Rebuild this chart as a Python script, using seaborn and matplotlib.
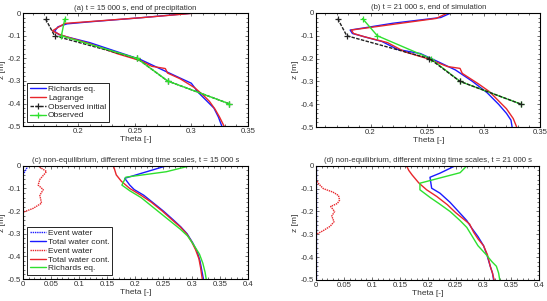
import matplotlib
matplotlib.use('Agg')
import matplotlib.pyplot as plt
import seaborn as sns
from matplotlib.ticker import AutoMinorLocator

sns.set_style('ticks')
plt.rcParams['font.family'] = ['Liberation Sans', 'DejaVu Sans']

BLUE = '#1a1aff'
RED = '#e8262b'
GREEN = '#2ee02e'

# ---- panel (a): t = 15 000 s
a_rich_theta = [0.300, 0.255, 0.210, 0.190, 0.182, 0.179, 0.183, 0.190, 0.210, 0.237, 0.255,
                0.272, 0.287, 0.300, 0.306, 0.314, 0.320, 0.324, 0.327]
a_rich_z = [0.0, -0.02, -0.038, -0.047, -0.06, -0.08, -0.095, -0.105, -0.13, -0.175, -0.205,
            -0.245, -0.28, -0.31, -0.35, -0.39, -0.42, -0.46, -0.5]
a_lag_theta = [0.302, 0.255, 0.210, 0.188, 0.183, 0.177, 0.183, 0.190, 0.210, 0.235, 0.255,
               0.265, 0.277, 0.279, 0.290, 0.303, 0.311, 0.316, 0.321, 0.325, 0.329]
a_lag_z = [0.0, -0.02, -0.037, -0.045, -0.06, -0.078, -0.093, -0.105, -0.135, -0.18, -0.21,
           -0.235, -0.245, -0.265, -0.29, -0.33, -0.365, -0.39, -0.425, -0.46, -0.5]

obs_z = [-0.025, -0.1, -0.2, -0.3, -0.4]
obs_init_theta = [0.171, 0.179, 0.252, 0.279, 0.333]
a_obs_theta = [0.188, 0.185, 0.252, 0.279, 0.333]

# ---- panel (b): t = 21 000 s
b_rich_theta = [0.271, 0.262, 0.220, 0.195, 0.182, 0.184, 0.195, 0.210, 0.224, 0.244, 0.258,
                0.275, 0.290, 0.303, 0.313, 0.320, 0.324, 0.325]
b_rich_z = [0.0, -0.02, -0.045, -0.065, -0.075, -0.09, -0.105, -0.125, -0.16, -0.178, -0.21,
            -0.25, -0.3, -0.35, -0.4, -0.44, -0.47, -0.5]
b_lag_theta = [0.268, 0.258, 0.183, 0.185, 0.195, 0.215, 0.230, 0.250, 0.268, 0.279, 0.281,
               0.295, 0.305, 0.312, 0.320, 0.326, 0.329]
b_lag_z = [0.0, -0.024, -0.075, -0.09, -0.105, -0.13, -0.17, -0.2, -0.235, -0.243, -0.265,
           -0.31, -0.345, -0.38, -0.42, -0.463, -0.5]
b_obs_theta = [0.193, 0.206, 0.253, 0.279, 0.333]

# ---- panel (c): non-equilibrium, t = 15 000 s
c_ev1_theta = [0.009, 0.0, 0.0]
c_ev1_z = [0.0, -0.04, -0.5]
c_tot1_theta = [0.255, 0.181, 0.190, 0.198, 0.215, 0.230, 0.250, 0.268, 0.281, 0.292, 0.302,
                0.310, 0.315, 0.318, 0.321]
c_tot1_z = [0.0, -0.055, -0.085, -0.105, -0.13, -0.16, -0.2, -0.24, -0.27, -0.3, -0.34,
            -0.38, -0.42, -0.46, -0.5]
c_ev2_theta = [0.026, 0.042, 0.030, 0.027, 0.036, 0.030, 0.033, 0.018, 0.0, 0.0]
c_ev2_z = [0.0, -0.025, -0.06, -0.085, -0.105, -0.13, -0.165, -0.188, -0.205, -0.5]
c_tot2_theta = [0.161, 0.166, 0.175, 0.190, 0.210, 0.228, 0.248, 0.266, 0.280, 0.291, 0.300,
                0.307, 0.313, 0.316, 0.319]
c_tot2_z = [0.0, -0.04, -0.068, -0.1, -0.13, -0.16, -0.2, -0.24, -0.27, -0.3, -0.335,
            -0.37, -0.41, -0.45, -0.5]
c_rich_theta = [0.297, 0.255, 0.183, 0.176, 0.190, 0.210, 0.225, 0.245, 0.265, 0.280, 0.293,
                0.304, 0.314, 0.320, 0.324, 0.326]
c_rich_z = [0.0, -0.026, -0.05, -0.085, -0.11, -0.14, -0.17, -0.21, -0.25, -0.28, -0.31,
            -0.35, -0.39, -0.43, -0.47, -0.5]

# ---- panel (d): non-equilibrium, t = 21 000 s
d_ev1_theta = [0.0, 0.0]
d_ev1_z = [0.0, -0.5]
d_tot1_theta = [0.249, 0.222, 0.204, 0.207, 0.222, 0.240, 0.255, 0.270, 0.278, 0.290, 0.300,
                0.306, 0.312, 0.316, 0.318]
d_tot1_z = [0.0, -0.032, -0.05, -0.098, -0.12, -0.16, -0.2, -0.24, -0.27, -0.31, -0.35,
            -0.39, -0.44, -0.47, -0.5]
d_ev2_theta = [0.0, 0.0, 0.005, 0.013, 0.030, 0.040, 0.042, 0.038, 0.026, 0.033, 0.028,
               0.032, 0.025, 0.012, 0.0, 0.0]
d_ev2_z = [0.0, -0.06, -0.08, -0.1, -0.115, -0.13, -0.15, -0.165, -0.178, -0.2, -0.22,
           -0.245, -0.265, -0.285, -0.3, -0.5]
d_tot2_theta = [0.162, 0.166, 0.172, 0.184, 0.198, 0.216, 0.235, 0.250, 0.265, 0.275, 0.282,
                0.290, 0.300, 0.307, 0.312, 0.316, 0.319]
d_tot2_z = [0.0, -0.02, -0.04, -0.075, -0.105, -0.134, -0.17, -0.205, -0.235, -0.255, -0.29,
            -0.32, -0.35, -0.39, -0.44, -0.47, -0.5]
d_rich_theta = [0.270, 0.258, 0.186, 0.186, 0.205, 0.220, 0.240, 0.258, 0.270, 0.280, 0.290,
                0.305, 0.315, 0.323, 0.327, 0.329]
d_rich_z = [0.0, -0.03, -0.076, -0.105, -0.14, -0.165, -0.2, -0.24, -0.27, -0.31, -0.35,
            -0.39, -0.42, -0.44, -0.47, -0.5]

FS = 5.6
LEG_FS = 6.0
LW = 1.0
DOTS = (0, (1, 0.6))


def draw(ax, theta, z, color, ls='-', marker=None, ms=4, label=None):
    n = len(ax.lines)
    sns.lineplot(x=theta, y=z, sort=False, estimator=None, ax=ax, color=color,
                 linewidth=LW, label=label)
    line = ax.lines[n]
    line.set_linestyle(ls)
    if marker:
        line.set_marker(marker)
        line.set_markersize(ms)
        line.set_markeredgewidth(0.9)
        line.set_markeredgecolor(color)
    return line


def style_axes(ax, xlim, xticks, title):
    ax.set_xlim(*xlim)
    ax.set_ylim(-0.5, 0)
    ax.set_xticks(xticks)
    ax.set_xticklabels(['%g' % t for t in xticks])
    ax.set_yticks([0, -0.1, -0.2, -0.3, -0.4, -0.5])
    ax.set_yticklabels(['0', '-0.1', '-0.2', '-0.3', '-0.4', '-0.5'])
    ax.xaxis.set_minor_locator(AutoMinorLocator(5))
    ax.yaxis.set_minor_locator(AutoMinorLocator(5))
    ax.tick_params(which='both', direction='in', top=True, right=True,
                   labelsize=FS, pad=1.5, width=0.5, colors='#333333')
    ax.tick_params(which='major', length=2.5)
    ax.tick_params(which='minor', length=1.2)
    for s in ax.spines.values():
        s.set_visible(True)
        s.set_linewidth(0.8)
        s.set_color('black')
    ax.set_xlabel('Theta [-]', fontsize=FS + 0.4, labelpad=0.5, color='#333333')
    ax.set_ylabel('z [m]', fontsize=FS + 0.4, labelpad=1, color='#333333')
    ax.set_title(title, fontsize=FS, pad=2.5, color='#333333')


def add_legend(ax):
    ax.get_legend().remove()
    lines = [l for l in ax.lines if not l.get_label().startswith('_')]
    leg = ax.legend(lines, [l.get_label() for l in lines], loc='lower left', fontsize=LEG_FS,
                    handlelength=2.0, handletextpad=0.2, borderpad=0.3, labelspacing=0.12,
                    borderaxespad=0.5, fancybox=False, framealpha=1, edgecolor='black')
    leg.get_frame().set_linewidth(0.6)


fig = plt.figure(figsize=(5.47, 3.01), dpi=100)
fig.patch.set_facecolor('white')

ax_a = fig.add_axes([0.042, 0.581, 0.411, 0.375])
ax_b = fig.add_axes([0.578, 0.578, 0.410, 0.379])
ax_c = fig.add_axes([0.042, 0.073, 0.411, 0.376])
ax_d = fig.add_axes([0.578, 0.070, 0.408, 0.379])

# (a)
draw(ax_a, a_rich_theta, a_rich_z, BLUE, label='Richards eq.')
draw(ax_a, a_lag_theta, a_lag_z, RED, label='Lagrange')
draw(ax_a, obs_init_theta, obs_z, '#222222', ls=(0, (2.5, 1)), marker='+', label='Observed initial')
draw(ax_a, a_obs_theta, obs_z, GREEN, marker='+', ms=5, label='Observed')
style_axes(ax_a, (0.151, 0.35), [0.2, 0.25, 0.3, 0.35],
           '(a) t = 15 000 s, end of precipitation')
add_legend(ax_a)

# (b)
draw(ax_b, b_rich_theta, b_rich_z, BLUE)
draw(ax_b, b_lag_theta, b_lag_z, RED)
draw(ax_b, b_obs_theta, obs_z, GREEN, marker='+', ms=4)
draw(ax_b, obs_init_theta, obs_z, '#222222', ls=(0, (2.5, 1)), marker='+')
style_axes(ax_b, (0.152, 0.35), [0.2, 0.25, 0.3, 0.35],
           '(b) t = 21 000 s, end of simulation')

# (c)
draw(ax_c, c_ev1_theta, c_ev1_z, BLUE, ls=DOTS, label='Event water')
draw(ax_c, c_tot1_theta, c_tot1_z, BLUE, label='Total water cont.')
draw(ax_c, c_ev2_theta, c_ev2_z, RED, ls=DOTS, label='Event water')
draw(ax_c, c_tot2_theta, c_tot2_z, RED, label='Total water cont.')
draw(ax_c, c_rich_theta, c_rich_z, GREEN, label='Richards eq.')
style_axes(ax_c, (0, 0.4), [0, 0.05, 0.1, 0.15, 0.2, 0.25, 0.3, 0.35, 0.4],
           '(c) non-equilibrium, different mixing time scales, t = 15 000 s')
add_legend(ax_c)

# (d)
draw(ax_d, d_ev1_theta, d_ev1_z, BLUE, ls=DOTS)
draw(ax_d, d_tot1_theta, d_tot1_z, BLUE)
draw(ax_d, d_ev2_theta, d_ev2_z, RED, ls=DOTS)
draw(ax_d, d_tot2_theta, d_tot2_z, RED)
draw(ax_d, d_rich_theta, d_rich_z, GREEN)
style_axes(ax_d, (0, 0.4), [0, 0.05, 0.1, 0.15, 0.2, 0.25, 0.3, 0.35, 0.4],
           '(d) non-equilibrium, different mixing time scales, t = 21 000 s')

fig.savefig('out.png', dpi=100, facecolor='white')
